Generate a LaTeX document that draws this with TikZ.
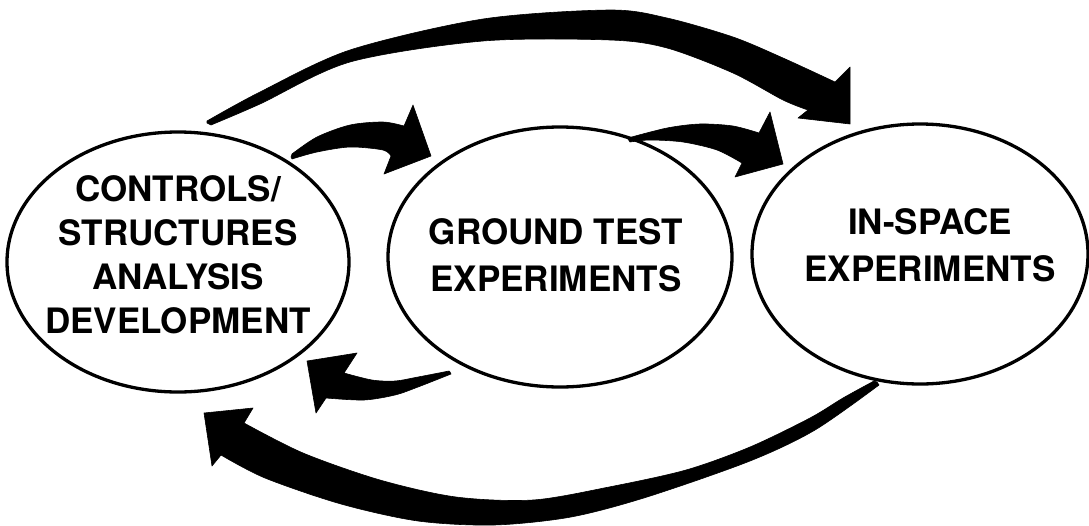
\documentclass[tikz,border=0pt]{standalone}
\usepackage{fontspec}
\setmainfont{TeX Gyre Heros}
\usetikzlibrary{positioning, shapes.geometric}

\begin{document}
\begin{tikzpicture}[
  x=1pt, y=-1pt,
  %% the three stages
  stage/.style={
    ellipse, draw=black, line width=3.3pt,
    minimum width=#1, minimum height=260pt,
    inner sep=0pt
  },
  caption/.style={
    font=\fontsize{35}{#1}\selectfont\bfseries,
    align=center, inner sep=0pt
  },
  %% fat hand-drawn arrows
  fatarrow/.style={
    fill=black, draw=black, line width=0.6pt, line join=round
  }
]
\useasboundingbox (0,0) rectangle (1089,525);

%% ── Stages ─────────────────────────────────────────────────────────────────
\node[stage=342pt] (csa) at (178,262) {};
\node[caption=44pt] (csa-text) at (178,255)
  {CONTROLS/\\STRUCTURES\\ANALYSIS\\DEVELOPMENT};

\node[stage=344pt] (gte) at (560,257) {};
\node[caption=47pt] (gte-text) at (556,255)
  {GROUND TEST\\EXPERIMENTS};

\node[stage=336pt] (isx) at (920,254) {};
\node[caption=47pt] (isx-text) at (930,245)
  {IN-SPACE\\EXPERIMENTS};

%% ── Arrow ends ─────────────────────────────────────────────────────────────
\coordinate (a-tail) at (207,123);  \coordinate (a-tip) at (850,124);
\coordinate (b-tail) at (291,157);  \coordinate (b-tip) at (431,156);
\coordinate (c-tail) at (628,139);  \coordinate (c-tip) at (783,164);
\coordinate (d-tail) at (450,372);  \coordinate (d-tip) at (307,361);
\coordinate (e-tail) at (877,382);  \coordinate (e-tip) at (204,413);

%% ── Forward arrows ─────────────────────────────────────────────────────────
%% analysis -> in-space (long, over the top)
\fill[fatarrow] (a-tail)
  -- plot[smooth] coordinates {(207,121) (260,92) (350,50) (483,19)
       (610,10) (667,18) (733,37) (783,58) (835,82)}
  -- (850,67) -- (a-tip) -- (798,118)
  -- plot[smooth] coordinates {(808,110) (783,100) (733,73) (667,48)
       (610,40) (483,41) (350,62) (260,104) (211,125)}
  -- cycle;

%% analysis -> ground test
\fill[fatarrow] (b-tail)
  -- plot[smooth] coordinates {(292,154) (317,137) (350,125) (383,122) (404,126)}
  -- (413,105) -- (b-tip) -- (384,174)
  -- plot[smooth] coordinates {(391,156) (383,150) (350,147) (317,152) (292,159)}
  -- cycle;

%% ground test -> in-space
\fill[fatarrow] (c-tail)
  -- plot[smooth] coordinates {(628,138) (667,128) (700,124) (733,126) (759,133)}
  -- (770,112) -- (c-tip) -- (735,177)
  -- plot[smooth] coordinates {(742,163) (717,150) (683,142) (650,140) (630,142)}
  -- cycle;

%% ── Feedback arrows ────────────────────────────────────────────────────────
%% ground test -> analysis
\fill[fatarrow] (d-tail)
  -- plot[smooth] coordinates {(449,371) (418,377) (395,381) (372,380) (344,373)}
  -- (357,353) -- (d-tip) -- (316,413)
  -- plot[smooth] coordinates {(326,398) (364,400) (395,395) (418,387) (451,374)}
  -- cycle;

%% in-space -> analysis (long, under the bottom)
\fill[fatarrow] (e-tail)
  -- plot[smooth] coordinates {(874,381) (843,398) (810,418) (750,447)
       (686,470) (609,487) (533,500) (456,497) (380,480) (303,453) (244,423)}
  -- (253,408) -- (e-tip) -- (212,466)
  -- plot[smooth] coordinates {(221,455) (265,478) (341,504) (418,521)
       (494,525) (571,517) (647,497) (750,461) (815,430) (879,385)}
  -- cycle;

\end{tikzpicture}
\end{document}
